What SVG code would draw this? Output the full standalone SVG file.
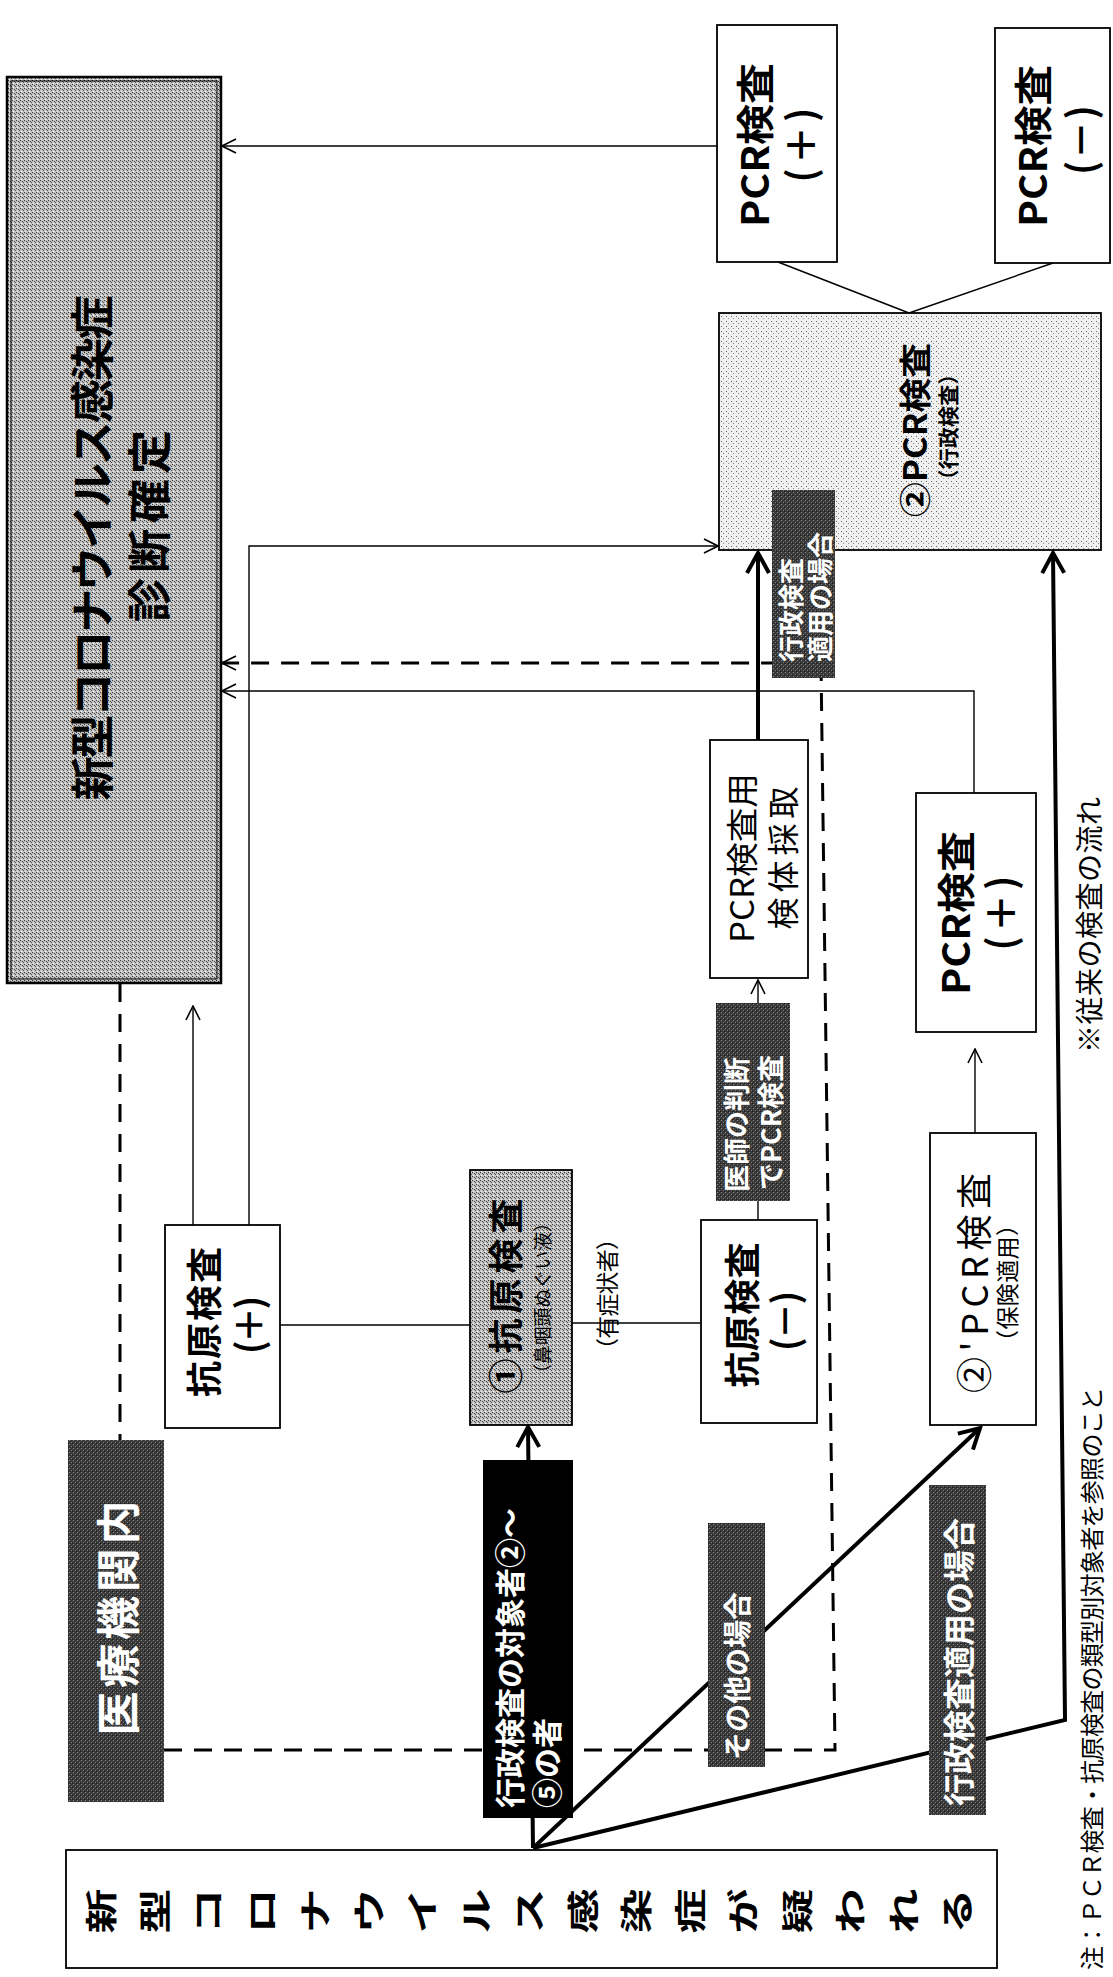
<svg xmlns="http://www.w3.org/2000/svg" width="1113" height="1977" viewBox="0 0 1113 1977">
<style>
.bg{fill:#fff}
.box{fill:#fff;stroke:#000;stroke-width:1.8}
.t{font-family:"Noto Sans CJK JP","Noto Sans",sans-serif;fill:#000}
.b{font-weight:bold}
.w{fill:#fff}
.ln{stroke:#000;stroke-width:1.4;fill:none}
.thick{stroke:#000;stroke-width:4;fill:none}
.dash{stroke:#000;stroke-width:3;stroke-dasharray:18 12;fill:none}
</style>
<defs>
<pattern id="pg" width="4" height="4" patternUnits="userSpaceOnUse"><rect width="4" height="4" fill="#c2c2c2"/><rect x="0" y="0" width="1" height="1" fill="#333"/><rect x="2" y="1" width="1" height="1" fill="#444"/><rect x="1" y="3" width="1" height="1" fill="#fff"/><rect x="3" y="2" width="1" height="1" fill="#555"/></pattern>
<pattern id="pl" width="5" height="5" patternUnits="userSpaceOnUse"><rect width="5" height="5" fill="#f0f0f0"/><rect x="1" y="1" width="1" height="1" fill="#666"/><rect x="3" y="3" width="1" height="1" fill="#888"/></pattern>
<pattern id="pd" width="4" height="4" patternUnits="userSpaceOnUse"><rect width="4" height="4" fill="#3a3a3a"/><rect x="1" y="0" width="1" height="1" fill="#8a8a8a"/><rect x="3" y="2" width="1" height="1" fill="#777"/><rect x="0" y="3" width="1" height="1" fill="#1a1a1a"/></pattern>
<marker id="ah" markerUnits="userSpaceOnUse" markerWidth="16" markerHeight="16" viewBox="0 0 16 16" refX="15" refY="8" orient="auto"><path d="M1,1 L15,8 L1,15" fill="none" stroke="#000" stroke-width="1.6"/></marker>
<marker id="ahk" markerUnits="userSpaceOnUse" markerWidth="26" markerHeight="26" viewBox="0 0 26 26" refX="23" refY="13" orient="auto"><path d="M3,2 L23,13 L3,24" fill="none" stroke="#000" stroke-width="4"/></marker>
</defs>
<rect class="bg" width="1113" height="1977"/>

<g id="connectors">
<line class="ln" x1="717" y1="146" x2="222" y2="146" marker-end="url(#ah)"/>
<line class="ln" x1="778" y1="262" x2="909" y2="313"/>
<line class="ln" x1="1053" y1="263" x2="909" y2="313"/>
<polyline class="ln" points="249,1225 249,546 718,546" marker-end="url(#ah)"/>
<polyline class="dash" points="164,1750 835,1750 821,663 222,663" marker-end="url(#ah)"/>
<line class="dash" x1="120" y1="984" x2="120" y2="1440"/>
<polyline class="ln" points="974,793 974,691 222,691" marker-end="url(#ah)"/>
<line class="thick" x1="758" y1="740" x2="758" y2="553" marker-end="url(#ahk)"/>
<line class="ln" x1="758" y1="1003" x2="758" y2="980" marker-end="url(#ah)"/>
<line class="ln" x1="758" y1="1200" x2="758" y2="1220"/>
<line class="ln" x1="572" y1="1323" x2="701" y2="1323"/>
<line class="ln" x1="280" y1="1325" x2="470" y2="1325"/>
<line class="ln" x1="193" y1="1225" x2="193" y2="1006" marker-end="url(#ah)"/>
<line class="ln" x1="975" y1="1133" x2="975" y2="1049" marker-end="url(#ah)"/>
<line class="thick" x1="533" y1="1848" x2="528" y2="1427" marker-end="url(#ahk)"/>
<line class="thick" x1="533" y1="1848" x2="980" y2="1428" marker-end="url(#ahk)"/>
<polyline class="thick" points="533,1848 1065,1720 1053,553" marker-end="url(#ahk)"/>
</g>

<g id="n-diagnosis">
<rect x="7" y="77" width="214" height="906" fill="url(#pg)" stroke="#000" stroke-width="2.5"/>
<rect x="11" y="81" width="206" height="898" fill="none" stroke="#000" stroke-width="1"/>
<text class="t b" font-size="44" transform="translate(90 548) rotate(-90)" text-anchor="middle" dominant-baseline="central" textLength="505" lengthAdjust="spacing">新型コロナウイルス感染症</text>
<text class="t b" font-size="44" transform="translate(147 526) rotate(-90)" text-anchor="middle" dominant-baseline="central" textLength="192" lengthAdjust="spacing">診断確定</text>
</g>

<g id="n-pcr-pos-top">
<rect class="box" x="717" y="25" width="120" height="237"/>
<text class="t b" font-size="38" transform="translate(752 145) rotate(-90)" text-anchor="middle" dominant-baseline="central" textLength="164" lengthAdjust="spacingAndGlyphs">PCR検査</text>
<text class="t b" font-size="38" transform="translate(798 145) rotate(-90)" text-anchor="middle" dominant-baseline="central" textLength="75" lengthAdjust="spacing">(＋)</text>
</g>

<g id="n-pcr-neg-top">
<rect class="box" x="995" y="28" width="115" height="235"/>
<text class="t b" font-size="38" transform="translate(1030 146) rotate(-90)" text-anchor="middle" dominant-baseline="central" textLength="162" lengthAdjust="spacingAndGlyphs">PCR検査</text>
<text class="t b" font-size="38" transform="translate(1078 140) rotate(-90)" text-anchor="middle" dominant-baseline="central" textLength="70" lengthAdjust="spacing">(－)</text>
</g>

<g id="n-pcr-gyosei">
<rect x="719" y="313" width="382" height="237" fill="url(#pl)" stroke="#000" stroke-width="1.8"/>
<text class="t b" font-size="32" transform="translate(913 430) rotate(-90)" text-anchor="middle" dominant-baseline="central" textLength="174" lengthAdjust="spacingAndGlyphs">②PCR検査</text>
<text class="t b" font-size="21" transform="translate(947 427) rotate(-90)" text-anchor="middle" dominant-baseline="central" textLength="127" lengthAdjust="spacing">（行政検査）</text>
</g>

<g id="l-gyosei-upper">
<rect x="772" y="490" width="63" height="188" fill="url(#pd)"/>
<text class="t b w" font-size="26" transform="translate(789 662) rotate(-90)" text-anchor="start" dominant-baseline="central">行政検査</text>
<text class="t b w" font-size="26" transform="translate(818 662) rotate(-90)" text-anchor="start" dominant-baseline="central">適用の場合</text>
</g>

<g id="n-specimen">
<rect class="box" x="710" y="740" width="98" height="238"/>
<text class="t" font-size="32" transform="translate(740 858) rotate(-90)" text-anchor="middle" dominant-baseline="central" textLength="170" lengthAdjust="spacingAndGlyphs">PCR検査用</text>
<text class="t" font-size="32" transform="translate(781 858) rotate(-90)" text-anchor="middle" dominant-baseline="central" textLength="143" lengthAdjust="spacing">検体採取</text>
</g>

<g id="l-doctor">
<rect x="716" y="1003" width="74" height="198" fill="url(#pd)"/>
<text class="t b w" font-size="27" transform="translate(735 1192) rotate(-90)" text-anchor="start" dominant-baseline="central">医師の判断</text>
<text class="t b w" font-size="27" transform="translate(769 1190) rotate(-90)" text-anchor="start" dominant-baseline="central">でPCR検査</text>
</g>

<g id="n-antigen-neg">
<rect class="box" x="701" y="1220" width="116" height="203"/>
<text class="t b" font-size="36" transform="translate(740 1315) rotate(-90)" text-anchor="middle" dominant-baseline="central" textLength="145" lengthAdjust="spacing">抗原検査</text>
<text class="t b" font-size="36" transform="translate(783 1321) rotate(-90)" text-anchor="middle" dominant-baseline="central" textLength="60" lengthAdjust="spacing">(－)</text>
</g>

<g id="n-antigen-pos">
<rect class="box" x="165" y="1225" width="115" height="203"/>
<text class="t b" font-size="36" transform="translate(202 1322) rotate(-90)" text-anchor="middle" dominant-baseline="central" textLength="150" lengthAdjust="spacing">抗原検査</text>
<text class="t b" font-size="36" transform="translate(247 1325) rotate(-90)" text-anchor="middle" dominant-baseline="central" textLength="58" lengthAdjust="spacing">(＋)</text>
</g>

<g id="n-antigen">
<rect x="470" y="1170" width="102" height="255" fill="url(#pg)" stroke="#000" stroke-width="1.8"/>
<text class="t b" font-size="35" transform="translate(503 1296) rotate(-90)" text-anchor="middle" dominant-baseline="central" textLength="195" lengthAdjust="spacing">①抗原検査</text>
<text class="t" font-size="19" transform="translate(541 1298) rotate(-90)" text-anchor="middle" dominant-baseline="central" textLength="170" lengthAdjust="spacing">（鼻咽頭ぬぐい液）</text>
</g>

<g id="t-symptomatic">
<text class="t" font-size="23" transform="translate(606 1294) rotate(-90)" text-anchor="middle" dominant-baseline="central" textLength="134" lengthAdjust="spacing">（有症状者）</text>
</g>

<g id="l-hospital">
<rect x="68" y="1440" width="96" height="362" fill="url(#pd)"/>
<text class="t b w" font-size="44" transform="translate(116 1618) rotate(-90)" text-anchor="middle" dominant-baseline="central" textLength="235" lengthAdjust="spacing">医療機関内</text>
</g>

<g id="l-target">
<rect x="483" y="1460" width="90" height="358" fill="#000"/>
<text class="t b w" font-size="30" transform="translate(508 1808) rotate(-90)" text-anchor="start" dominant-baseline="central">行政検査の対象者②～</text>
<text class="t b w" font-size="30" transform="translate(545 1808) rotate(-90)" text-anchor="start" dominant-baseline="central">⑤の者</text>
</g>

<g id="l-other">
<rect x="708" y="1523" width="57" height="244" fill="url(#pd)"/>
<text class="t b w" font-size="28" transform="translate(736 1760) rotate(-90)" text-anchor="start" dominant-baseline="central">その他の場合</text>
</g>

<g id="l-gyosei-lower">
<rect x="929" y="1485" width="57" height="330" fill="url(#pd)"/>
<text class="t b w" font-size="32" transform="translate(957 1806) rotate(-90)" text-anchor="start" dominant-baseline="central">行政検査適用の場合</text>
</g>

<g id="n-pcr-hoken">
<rect class="box" x="930" y="1133" width="106" height="292"/>
<text class="t" font-size="36" transform="translate(972 1283) rotate(-90)" text-anchor="middle" dominant-baseline="central" textLength="220" lengthAdjust="spacing">②'PCR検査</text>
<text class="t" font-size="23" transform="translate(1006 1283) rotate(-90)" text-anchor="middle" dominant-baseline="central" textLength="140" lengthAdjust="spacing">（保険適用）</text>
</g>

<g id="n-pcr-pos-lower">
<rect class="box" x="916" y="793" width="120" height="239"/>
<text class="t b" font-size="38" transform="translate(953 913) rotate(-90)" text-anchor="middle" dominant-baseline="central" textLength="164" lengthAdjust="spacingAndGlyphs">PCR検査</text>
<text class="t b" font-size="38" transform="translate(998 913) rotate(-90)" text-anchor="middle" dominant-baseline="central" textLength="75" lengthAdjust="spacing">(＋)</text>
</g>

<g id="n-suspected">
<rect class="box" x="66" y="1850" width="931" height="118"/>
<g class="t b" font-size="45" text-anchor="middle" dominant-baseline="central">
<text transform="translate(99 1911) rotate(-90) scale(1 0.72)">新</text>
<text transform="translate(152.5 1911) rotate(-90) scale(1 0.72)">型</text>
<text transform="translate(206 1911) rotate(-90) scale(1 0.72)">コ</text>
<text transform="translate(259.5 1911) rotate(-90) scale(1 0.72)">ロ</text>
<text transform="translate(313 1911) rotate(-90) scale(1 0.72)">ナ</text>
<text transform="translate(366.5 1911) rotate(-90) scale(1 0.72)">ウ</text>
<text transform="translate(420 1911) rotate(-90) scale(1 0.72)">イ</text>
<text transform="translate(473.5 1911) rotate(-90) scale(1 0.72)">ル</text>
<text transform="translate(527 1911) rotate(-90) scale(1 0.72)">ス</text>
<text transform="translate(580.5 1911) rotate(-90) scale(1 0.72)">感</text>
<text transform="translate(634 1911) rotate(-90) scale(1 0.72)">染</text>
<text transform="translate(687.5 1911) rotate(-90) scale(1 0.72)">症</text>
<text transform="translate(741 1911) rotate(-90) scale(1 0.72)">が</text>
<text transform="translate(794.5 1911) rotate(-90) scale(1 0.72)">疑</text>
<text transform="translate(848 1911) rotate(-90) scale(1 0.72)">わ</text>
<text transform="translate(901.5 1911) rotate(-90) scale(1 0.72)">れ</text>
<text transform="translate(955 1911) rotate(-90) scale(1 0.72)">る</text>
</g>
</g>

<g id="notes">
<text class="t" font-size="28" transform="translate(1088 925) rotate(-90)" text-anchor="middle" dominant-baseline="central" textLength="256" lengthAdjust="spacing">※従来の検査の流れ</text>
<text class="t" font-size="24" transform="translate(1090 1970) rotate(-90)" text-anchor="start" dominant-baseline="central" textLength="583" lengthAdjust="spacing">注：ＰＣＲ検査・抗原検査の類型別対象者を参照のこと</text>
</g>
</svg>
